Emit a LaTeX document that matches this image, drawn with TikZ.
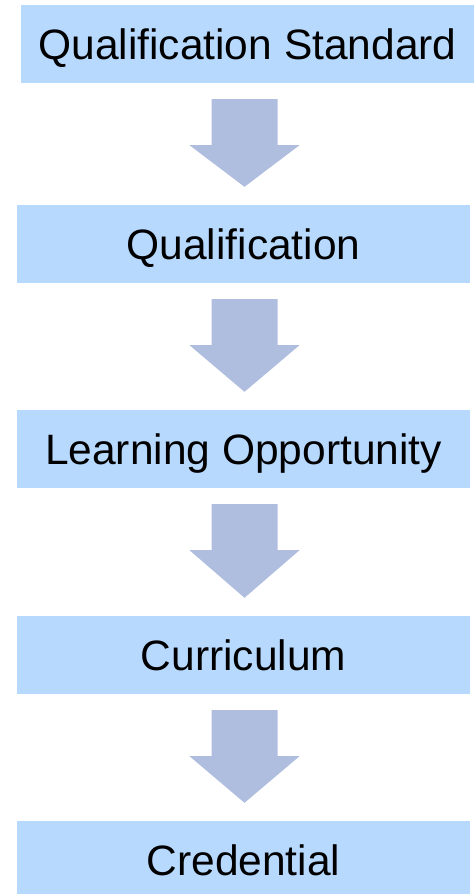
\documentclass[tikz,border=0pt]{standalone}
\usepackage{fontspec}
\setmainfont{Liberation Sans}
\usetikzlibrary{calc}
\definecolor{boxblue}{HTML}{B7D9FE}
\definecolor{arrowblue}{HTML}{AFBDDF}
\begin{document}
\begin{tikzpicture}[x=1pt,y=-1pt,
  stagebox/.style={fill=boxblue, draw=none, minimum width=453pt, minimum height=78pt, inner sep=0pt,
    font=\fontsize{42.5}{50}\selectfont, text height=31pt, text depth=0pt},
  blockarrow/.style={fill=arrowblue, draw=none}]
\useasboundingbox (0,0) rectangle (476,894);
\node[stagebox] (q1) at (247.5,44) {Qualification Standard};
\node[stagebox] (q2) at (243.5,244) {Qualification};
\node[stagebox] (q3) at (243.5,449) {Learning Opportunity};
\node[stagebox] (q4) at (243.5,655) {Curriculum};
\node[stagebox] (q5) at (243.5,860) {Credential};
\foreach \a/\b in {q1/q2,q2/q3,q3/q4,q4/q5}{
  \fill[blockarrow] let \p1=(\a.south), \p2=(\b.north) in
    (\x2+1pt-33pt,\y1-16pt) -- (\x2+1pt+33pt,\y1-16pt) -- (\x2+1pt+33pt,\y1-62pt) --
    (\x2+1pt+55pt,\y1-62pt) -- (\x2+1pt,\y2+18pt) -- (\x2+1pt-55pt,\y1-62pt) --
    (\x2+1pt-33pt,\y1-62pt) -- cycle;
}
\end{tikzpicture}
\end{document}
